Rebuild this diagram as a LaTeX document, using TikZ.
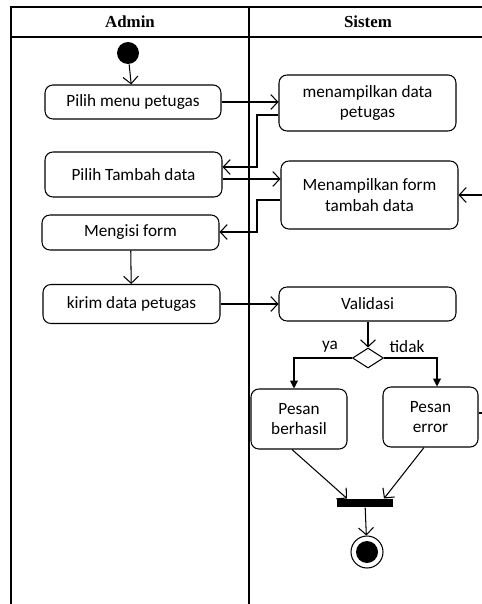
\documentclass[tikz,border=0pt]{standalone}
\usepackage{fontspec}
\setmainfont{Carlito}
\newfontfamily\headfont{Liberation Serif}
\usepackage{tikz}
\usetikzlibrary{arrows.meta}
\usetikzlibrary{shapes.geometric, positioning}

\begin{document}
\begin{tikzpicture}[>={Straight Barb[length=4pt,width=8.5pt]}, x=0.02cm, y=-0.02cm, line width=0.6pt,
  act/.style={draw, rounded corners=4.5pt, align=center, inner sep=1pt,
    font=\fontsize{9.8}{11.5}\selectfont},
  lane/.style={font=\headfont\bfseries\fontsize{9.6}{11}\selectfont},
  guard/.style={font=\fontsize{9.8}{11.5}\selectfont},
  tri/.style={-{Triangle[length=4.5pt,width=4.5pt]}}]

  \useasboundingbox (0,0) rectangle (482,604);

  % \draw swimlanes
  \draw (11,604) -- (11,7) -- (482,7);
  \draw (11,37) -- (482,37);
  \draw (249,7) -- (249,604);
  \node[lane] (admin) at (130,22) {Admin};
  \node[lane] (sistem) at (368,22) {Sistem};

  % \draw activities
  \node[circle, fill, minimum size=0.44cm, inner sep=0] (start) at (128,53) {};
  \node[act, minimum width=3.52cm, minimum height=0.68cm] (menu) at (133,102) {Pilih menu petugas};
  \node[act, minimum width=3.54cm, minimum height=1.12cm] (tampil) at (367.5,103) {menampilkan data\\petugas};
  \node[act, minimum width=3.54cm, minimum height=0.9cm] (tambah) at (133.5,174.5) {Pilih Tambah data};
  \node[act, minimum width=3.54cm, minimum height=1.36cm] (form) at (369.5,195) {Menampilkan form\\tambah data};
  \node[act, minimum width=3.54cm, minimum height=0.7cm] (isi) at (130.5,232.5) {Mengisi form};
  \node[act, minimum width=3.54cm, minimum height=0.78cm] (kirim) at (131.5,304) {kirim data petugas};
  \node[act, minimum width=3.54cm, minimum height=0.68cm] (valid) at (367.5,304) {Validasi};
  \node[diamond, draw, minimum width=0.62cm, minimum height=0.4cm, inner sep=0] (cek) at (368,358) {};
  \node[act, minimum width=1.92cm, minimum height=1.2cm] (hasil) at (299,419) {Pesan\\berhasil};
  \node[act, minimum width=1.9cm, minimum height=1.2cm] (error) at (430.5,417) {Pesan\\error};
  \node[rectangle, fill, minimum width=1.12cm, minimum height=0.16cm, inner sep=0] (join) at (365,503) {};
  \node[circle, draw, minimum size=0.64cm, inner sep=0] (stop) at (367,552) {};
  \fill (stop) circle (0.22cm);
  \coordinate (inedge) at (482,195);
  \coordinate (outedge) at (482,413);

  % \draw flows
  \draw[->] (start) -- (menu);
  \draw[->] (menu.east) -- (menu.east -| tampil.west);
  \draw[->] (tampil.west |- 0,115) -- (257,115) -- (257,167) -- (tambah.east |- 0,167);
  \draw[->] (tambah.east |- 0,179) -- (form.west |- 0,179);
  \draw[->] (inedge) -- (form.east |- inedge);
  \draw[->] (form.west |- 0,200) -- (257,200) -- (257,232) -- (isi.east |- 0,232);
  \draw[->] (isi) -- (kirim);
  \draw[->] (kirim.east) -- (kirim.east -| valid.west);
  \draw[->] (valid.south -| cek) -- (cek.north);
  \draw[tri] (cek.west) -| (hasil.north -| 294,0);
  \draw[tri] (cek.east) -| (error.north -| 437,0);
  \node[guard] (ya) at (330,347) {ya};
  \node[guard] (tidak) at (407,347) {tidak};
  \draw (error.east |- outedge) -- (outedge);
  \draw[->] (hasil.south -| 292,0) -- (join.north -| 347,0);
  \draw[->] (error.south -| 424,0) -- (join.north -| 384,0);
  \draw[->] (join) -- (stop);
\end{tikzpicture}
\end{document}
